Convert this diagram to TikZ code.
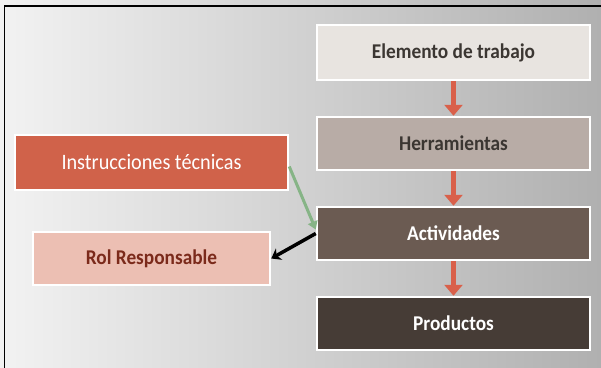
\documentclass[tikz,border=0pt]{standalone}
\usepackage{fontspec}
\setmainfont{Carlito}
\newfontfamily\narrowfont[FakeStretch=0.92]{Carlito}
\usetikzlibrary{arrows.meta}
\definecolor{redarrow}{HTML}{D9604A}
\definecolor{instfill}{HTML}{D0624A}
\definecolor{rolfill}{HTML}{ECBFB3}
\definecolor{roltext}{HTML}{7B2A1B}
\definecolor{elemfill}{HTML}{E8E4E0}
\definecolor{herrfill}{HTML}{B8ACA6}
\definecolor{actfill}{HTML}{6B5B52}
\definecolor{prodfill}{HTML}{463C36}
\definecolor{darktext}{HTML}{3B3632}
\definecolor{greenarrow}{HTML}{86B486}

\begin{document}
\begin{tikzpicture}[x=1pt,y=-1pt,
    box/.style={draw=white,line width=2.5pt,minimum width=273pt,minimum height=53pt,inner sep=0pt,
                font=\narrowfont\fontsize{21}{24}\selectfont\bfseries},
    flowarrow/.style={draw=redarrow,line width=4.5pt,-{Triangle[width=18pt,length=11pt]}},
    ]
    \useasboundingbox (0,0) rectangle (601,367);
    \shade[left color=black!5,right color=black!31] (0,0) rectangle (601,367);
    \draw[line width=1.3pt] (4.5,370) -- (4.5,6) -- (605,6);
    \node[box,fill=elemfill,text=darktext,minimum height=55pt] (elem) at (453.5,52.5) {Elemento de trabajo};
    \node[box,fill=herrfill,text=darktext] (herr) at (453.5,143.5) {Herramientas};
    \node[box,fill=actfill,text=white] (act) at (453.5,233.5) {Actividades};
    \node[box,fill=prodfill,text=white] (prod) at (453.5,323.5) {Productos};
    \node[box,fill=instfill,text=white,minimum height=55pt,font=\narrowfont\fontsize{22}{24}\selectfont] (inst) at (151.5,162.5) {Instrucciones técnicas};
    \node[box,fill=rolfill,text=roltext,minimum width=237pt] (rol) at (151.5,258.5) {Rol Responsable};
    \draw[flowarrow] (elem) -- (herr);
    \draw[flowarrow] (herr) -- (act);
    \draw[flowarrow] (act) -- (prod);
    \draw[draw=greenarrow,line width=3pt,-{Triangle[width=10pt,length=8pt]}] ([yshift=-4pt]inst.east) -- ([yshift=4pt]act.west);
    \draw[line width=3.5pt,-{Stealth[width=13pt,length=9pt]}] (act.west) -- (rol.east);
\end{tikzpicture}
\end{document}
